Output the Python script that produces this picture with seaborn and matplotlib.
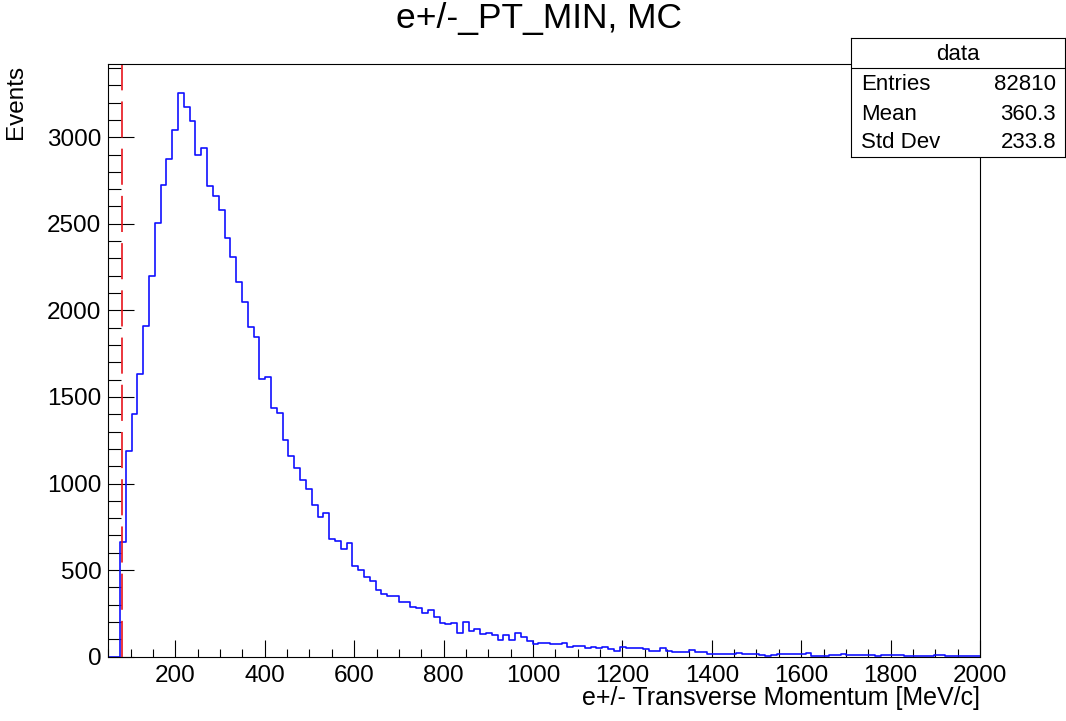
import numpy as np
import pandas as pd
import matplotlib
matplotlib.use("Agg")
import matplotlib.pyplot as plt
import seaborn as sns
from matplotlib.ticker import MultipleLocator

# ---------------- data ----------------
bin_low = 50
bin_high = 2000
n_bins = 150
counts = [
    0, 0, 661, 1188, 1404, 1631, 1910, 2199, 2504, 2725,
    2873, 3041, 3258, 3177, 3096, 2897, 2937, 2721, 2663, 2582,
    2415, 2311, 2166, 2047, 1906, 1849, 1602, 1616, 1439, 1410,
    1254, 1161, 1092, 1021, 967, 875, 809, 832, 678, 667,
    622, 655, 524, 501, 459, 439, 385, 360, 353, 353,
    318, 318, 285, 280, 251, 270, 228, 196, 187, 196,
    139, 200, 148, 160, 129, 139, 125, 96, 124, 96,
    139, 116, 91, 73, 81, 77, 73, 73, 77, 58,
    64, 64, 52, 58, 50, 58, 42, 35, 54, 48,
    48, 48, 43, 35, 35, 52, 33, 25, 25, 25,
    40, 25, 25, 16, 16, 16, 16, 18, 23, 14,
    14, 14, 8, 6, 8, 14, 14, 14, 17, 16,
    20, 5, 4, 4, 12, 12, 13, 8, 7, 7,
    8, 11, 5, 11, 7, 7, 7, 6, 5, 5,
    4, 5, 9, 8, 4, 3, 4, 3, 3, 2,
]
cut_value = 80
title = "e+/-_PT_MIN, MC"
xlabel = "e+/- Transverse Momentum [MeV/c]"
ylabel = "Events"
stats_title = "data"
stats_labels = ["Entries", "Mean", "Std Dev"]
stats_values = ["82810", "360.3", "233.8"]

# ---------------- style ----------------
sns.set_style("white")
plt.rcParams["font.family"] = ["Liberation Sans", "DejaVu Sans"]
plt.rcParams["lines.scale_dashes"] = False
plt.rcParams["text.color"] = "black"
plt.rcParams["xtick.color"] = "black"
plt.rcParams["ytick.color"] = "black"

W, H = 1066, 721
edges = [float(e) for e in np.linspace(bin_low, bin_high, n_bins + 1)]
centers = [0.5 * (edges[i] + edges[i + 1]) for i in range(n_bins)]
df = pd.DataFrame({"pt": centers, "w": counts})

fig = plt.figure(figsize=(W / 100, H / 100), dpi=100)
fig.patch.set_facecolor("white")
ax_l, ax_r, ax_t, ax_b = 108.3, 980.0, 64.3, 656.7
ax = fig.add_axes([ax_l / W, 1 - ax_b / H, (ax_r - ax_l) / W, (ax_b - ax_t) / H])

sns.histplot(data=df, x="pt", weights="w", bins=edges, element="step",
             fill=False, color="#1010ff", linewidth=1.2, ax=ax)
ax.axvline(cut_value, color="#e8141c", lw=1.2, dashes=(26, 8))

ax.set_xlim(bin_low, bin_high)
ax.set_ylim(0, 1.05 * max(counts))
ax.set_xlabel("")
ax.set_ylabel("")

ax.xaxis.set_major_locator(MultipleLocator(200))
ax.xaxis.set_minor_locator(MultipleLocator(50))
ax.yaxis.set_major_locator(MultipleLocator(500))
ax.yaxis.set_minor_locator(MultipleLocator(100))
ax.tick_params(which="both", direction="in", bottom=True, left=True,
               top=False, right=False, width=0.8, color="black",
               labelsize=17.5, labelcolor="black")
ax.tick_params(axis="x", which="major", length=12.2, pad=6)
ax.tick_params(axis="x", which="minor", length=6.0)
ax.tick_params(axis="y", which="major", length=19.0, pad=5)
ax.tick_params(axis="y", which="minor", length=9.6)
for s in ax.spines.values():
    s.set_color("black")
    s.set_linewidth(0.8)
    s.set_visible(True)
ax.grid(False)

# titles
fig.text(539 / W, 1 - 28 / H, title, ha="center", va="baseline", fontsize=25.5)
fig.text(ax_r / W, 1 - 705 / H, xlabel, ha="right", va="baseline", fontsize=18)
fig.text(16 / W, 1 - 65 / H, ylabel, ha="center", va="top", rotation=90, fontsize=17.5)

# stats box
bl, br, bt, bb = 851, 1065, 38, 157
bax = fig.add_axes([bl / W, 1 - bb / H, (br - bl) / W, (bb - bt) / H])
bax.set_facecolor("white")
bax.set_xlim(0, 1)
bax.set_ylim(0, 1)
bax.set_xticks([])
bax.set_yticks([])
for s in bax.spines.values():
    s.set_color("black")
    s.set_linewidth(0.8)
sep = (bb - 68.3) / (bb - bt)
bax.axhline(sep, color="black", lw=0.8)
bax.text(0.5, (bb - 54) / (bb - bt), stats_title, ha="center", va="center", fontsize=16)
row_y = [84, 114, 142]
for lab, val, yy in zip(stats_labels, stats_values, row_y):
    yf = (bb - yy) / (bb - bt)
    bax.text(0.047, yf, lab, ha="left", va="center", fontsize=16)
    bax.text(0.958, yf, val, ha="right", va="center", fontsize=16)

fig.savefig("out.png", dpi=100, facecolor="white")
